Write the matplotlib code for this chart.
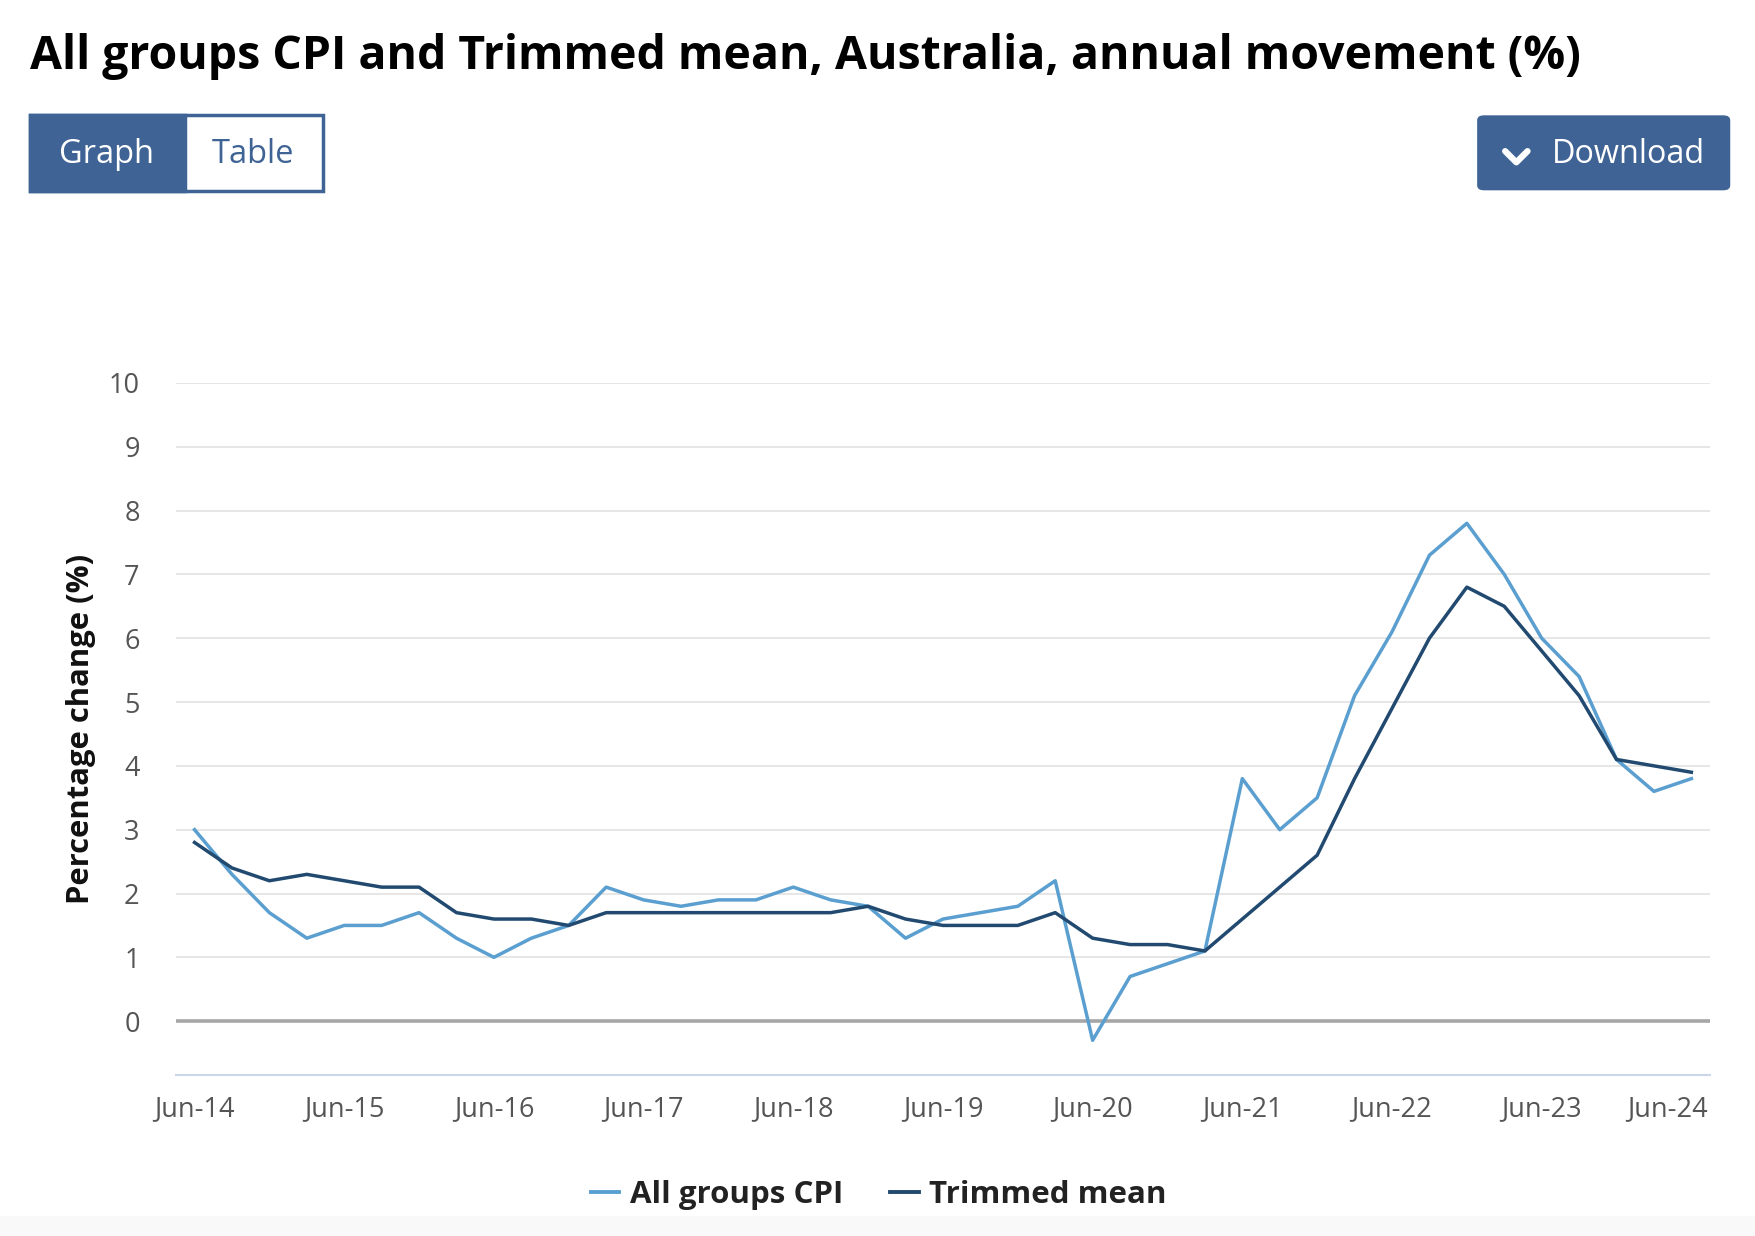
import matplotlib
matplotlib.use("Agg")
from matplotlib import pyplot as plt
from matplotlib.patches import Rectangle, FancyBboxPatch
from matplotlib.lines import Line2D
from matplotlib.transforms import ScaledTranslation

plt.rcParams['font.family'] = ['Open Sans', 'DejaVu Sans']

# quarterly, Jun-14 .. Jun-24
quarters = ['Jun-14', 'Sep-14', 'Dec-14', 'Mar-15', 'Jun-15', 'Sep-15', 'Dec-15', 'Mar-16',
            'Jun-16', 'Sep-16', 'Dec-16', 'Mar-17', 'Jun-17', 'Sep-17', 'Dec-17', 'Mar-18',
            'Jun-18', 'Sep-18', 'Dec-18', 'Mar-19', 'Jun-19', 'Sep-19', 'Dec-19', 'Mar-20',
            'Jun-20', 'Sep-20', 'Dec-20', 'Mar-21', 'Jun-21', 'Sep-21', 'Dec-21', 'Mar-22',
            'Jun-22', 'Sep-22', 'Dec-22', 'Mar-23', 'Jun-23', 'Sep-23', 'Dec-23', 'Mar-24',
            'Jun-24']
cpi = [3.0, 2.3, 1.7, 1.3, 1.5, 1.5, 1.7, 1.3,
       1.0, 1.3, 1.5, 2.1, 1.9, 1.8, 1.9, 1.9,
       2.1, 1.9, 1.8, 1.3, 1.6, 1.7, 1.8, 2.2,
       -0.3, 0.7, 0.9, 1.1, 3.8, 3.0, 3.5, 5.1,
       6.1, 7.3, 7.8, 7.0, 6.0, 5.4, 4.1, 3.6,
       3.8]
trimmed = [2.8, 2.4, 2.2, 2.3, 2.2, 2.1, 2.1, 1.7,
           1.6, 1.6, 1.5, 1.7, 1.7, 1.7, 1.7, 1.7,
           1.7, 1.7, 1.8, 1.6, 1.5, 1.5, 1.5, 1.7,
           1.3, 1.2, 1.2, 1.1, 1.6, 2.1, 2.6, 3.8,
           4.9, 6.0, 6.8, 6.5, 5.8, 5.1, 4.1, 4.0,
           3.9]
y_ticks = list(range(0, 11))
series_names = ['All groups CPI', 'Trimmed mean']

c_cpi = '#5a9fd0'
c_trim = '#224a70'
c_btn = '#3f6394'
c_tick = '#555555'

W, H = 1568.0, 1104.0  # layout measured on reference, scaled to fig fractions

def fx(px):
    return px / W

def fy(py):
    return 1 - py / H

fig = plt.figure(figsize=(17.56, 12.36), dpi=100)
fig.patch.set_facecolor('white')

# faint grey band at the very bottom
fig.add_artist(Rectangle((0, 0), 1, fy(1086), transform=fig.transFigure,
                         facecolor='#f9f9f9', edgecolor='none', zorder=0))

# title
fig.text(fx(27), fy(62), 'All groups CPI and Trimmed mean, Australia, annual movement (%)',
         fontsize=33.4, fontweight='bold', color='#000000', ha='left', va='baseline')

# Graph / Table toggle
fig.add_artist(Rectangle((fx(27), fy(171)), fx(261), 68 / H, transform=fig.transFigure,
                         facecolor='white', edgecolor=c_btn, linewidth=2.5))
fig.add_artist(Rectangle((fx(27), fy(171)), fx(138), 68 / H, transform=fig.transFigure,
                         facecolor=c_btn, edgecolor=c_btn, linewidth=2.5))
fig.text(fx(95), fy(138), 'Graph', fontsize=23.5, color='white', ha='center', va='center')
fig.text(fx(226), fy(138), 'Table', fontsize=23.5, color=c_btn, ha='center', va='center')

# Download button
fig.add_artist(FancyBboxPatch((fx(1319), fy(170)), fx(226), 67 / H,
                              boxstyle='round,pad=0,rounding_size=0.004',
                              transform=fig.transFigure, facecolor=c_btn, edgecolor='none'))
fig.add_artist(Line2D([fx(1344), fx(1354), fx(1364)], [fy(135), fy(145), fy(135)],
                      transform=fig.transFigure, color='white', linewidth=4.5,
                      solid_capstyle='round', solid_joinstyle='round'))
fig.text(fx(1454), fy(138), 'Download', fontsize=23.3, color='white', ha='center', va='center')

# plot area
ax = fig.add_axes([fx(157), fy(960), fx(1527) - fx(157), fy(342) - fy(960)])
x = list(range(len(quarters)))

for yv in y_ticks:
    if yv == 0:
        ax.axhline(0, color='#a6a6a6', linewidth=2.6, zorder=1)
    else:
        ax.axhline(yv, color='#e6e6e6', linewidth=1.4, zorder=1)

ax.plot(x, cpi, color=c_cpi, linewidth=2.5, zorder=3, label=series_names[0])
ax.plot(x, trimmed, color=c_trim, linewidth=2.5, zorder=4, label=series_names[1])

ax.set_xlim(-0.5, len(quarters) - 0.5)
ax.set_ylim(-0.84, 10)
ax.set_yticks(y_ticks)
ax.set_yticklabels([str(v) for v in y_ticks])
xt = [i for i, q in enumerate(quarters) if q.startswith('Jun')]
ax.set_xticks(xt)
ax.set_xticklabels([quarters[i] for i in xt])

for s in ['top', 'right', 'left']:
    ax.spines[s].set_visible(False)
ax.spines['bottom'].set_color('#ccd6eb')
ax.spines['bottom'].set_linewidth(1.5)
ax.tick_params(axis='both', length=0, labelsize=19.5, labelcolor=c_tick)
ax.tick_params(axis='x', pad=15)
ax.tick_params(axis='y', pad=26)

# last label is pulled inside the plot edge, like the original
last = ax.get_xticklabels()[-1]
last.set_transform(last.get_transform() + ScaledTranslation(-0.24, 0, fig.dpi_scale_trans))

fig.text(fx(72), fy(651), 'Percentage change (%)', rotation=90, fontsize=22.3,
         fontweight='bold', color='#111111', ha='center', va='center')

leg = fig.legend(loc='center', bbox_to_anchor=(fx(785), fy(1067)), ncol=2, frameon=False,
                 handlelength=0.9, handletextpad=0.35, columnspacing=1.5,
                 prop={'size': 22.5, 'weight': 'bold'})
for t in leg.get_texts():
    t.set_color('#222222')
for h in leg.get_lines():
    h.set_linewidth(2.8)

fig.savefig('out.png', dpi=100)
